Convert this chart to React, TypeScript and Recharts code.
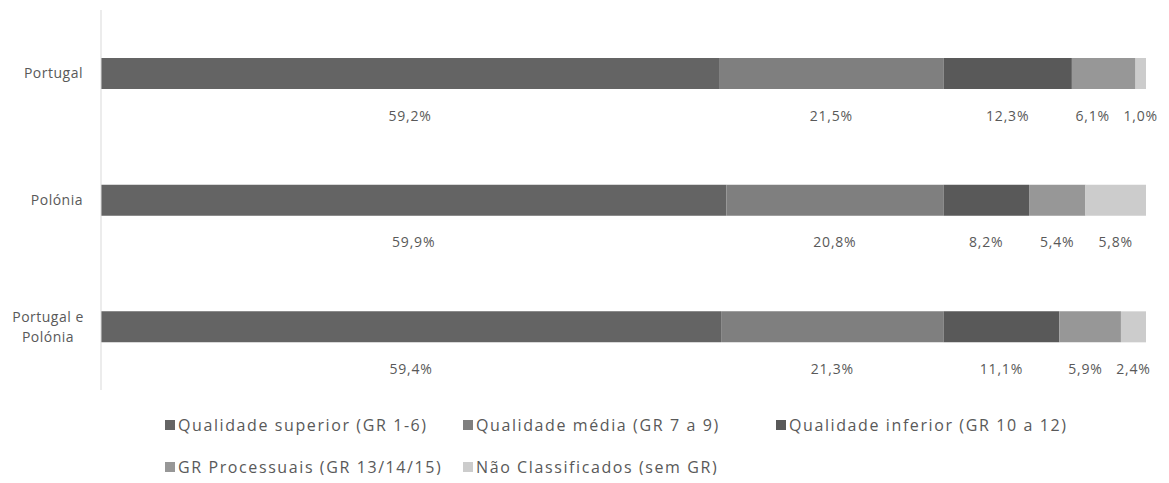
import React from 'react';
import { BarChart, Bar, XAxis, YAxis, Legend, LabelList } from 'recharts';

const categories = ['Portugal', 'Polónia', 'Portugal e Polónia'];
const superior = [59.2, 59.9, 59.4];
const media = [21.5, 20.8, 21.3];
const inferior = [12.3, 8.2, 11.1];
const processuais = [6.1, 5.4, 5.9];
const naoClassificados = [1.0, 5.8, 2.4];

const seriesNames = [
  'Qualidade superior (GR 1-6)',
  'Qualidade média (GR 7 a 9)',
  'Qualidade inferior (GR 10 a 12)',
  'GR Processuais (GR 13/14/15)',
  'Não Classificados (sem GR)',
];
const seriesKeys = ['superior', 'media', 'inferior', 'processuais', 'nao'];
const seriesColors = ['#646464', '#7f7f7f', '#595959', '#979797', '#cccccc'];

const data: any[] = categories.map((c, i) => ({
  name: c,
  superior: superior[i],
  media: media[i],
  inferior: inferior[i],
  processuais: processuais[i],
  nao: naoClassificados[i],
}));

const FONT = '"Open Sans", "Noto Sans", sans-serif';
const fmt = (v: number) => v.toFixed(1).replace('.', ',') + '%';
const textW = (s: string) => s.length * 8.5;

const YTick = (props: any) => {
  const { x, y, payload } = props;
  const label: string = payload.value;
  if (label === 'Portugal e Polónia') {
    return (
      <text x={x - 45} y={y} textAnchor="middle" fill="#595959" fontSize={14} letterSpacing={0.5} fontFamily={FONT}>
        <tspan x={x - 45} dy={-5}>Portugal e</tspan>
        <tspan x={x - 45} dy={20}>Polónia</tspan>
      </text>
    );
  }
  return (
    <text x={x - 10} y={y} dy={5} textAnchor="end" fill="#595959" fontSize={14} letterSpacing={0.5} fontFamily={FONT}>
      {label}
    </text>
  );
};

const BelowLabel = (props: any) => {
  const { x, y, width, height, value, index, seriesIndex } = props;
  const label = fmt(value);
  let cx = x + width / 2;
  if (seriesIndex < seriesKeys.length - 1 && value > 0) {
    const nextVal = data[index][seriesKeys[seriesIndex + 1]];
    const nextW = (width / value) * nextVal;
    const nextCx = x + width + nextW / 2;
    const nextLeft = nextCx - textW(fmt(nextVal)) / 2;
    const gap = 14;
    if (cx + textW(label) / 2 + gap > nextLeft) {
      cx = nextLeft - gap - textW(label) / 2;
    }
  }
  return (
    <text
      x={cx}
      y={y + height + 26}
      textAnchor="middle"
      dominantBaseline="central"
      fill="#595959"
      fontSize={14}
      letterSpacing={0.8}
      fontFamily={FONT}
    >
      {label}
    </text>
  );
};

const LegendContent = () => {
  const colWidths = [298, 313, 330];
  return (
    <div style={{ position: 'relative', width: '100%', height: '100%' }}>
      {seriesNames.map((n, i) => {
        const row = Math.floor(i / 3);
        const col = i % 3;
        const left = 157 + colWidths.slice(0, col).reduce((a, b) => a + b, 0);
        return (
          <div
            key={n}
            style={{
              position: 'absolute',
              left,
              top: row * 42,
              display: 'flex',
              alignItems: 'center',
              whiteSpace: 'nowrap',
              fontFamily: FONT,
              fontSize: 16,
              letterSpacing: 1.6,
              color: '#595959',
              height: 20,
            }}
          >
            <span style={{ display: 'inline-block', width: 10, height: 10, background: seriesColors[i], marginRight: 3 }} />
            {n}
          </div>
        );
      })}
    </div>
  );
};

export default function App() {
  return (
    <BarChart
      width={1153}
      height={467}
      data={data}
      layout="vertical"
      margin={{ top: 2, right: 15, bottom: 15, left: 0 }}
      barCategoryGap={0}
    >
      <XAxis type="number" domain={[0, 100.1]} hide />
      <YAxis
        type="category"
        dataKey="name"
        width={93}
        axisLine={{ stroke: '#d9d9d9' }}
        tickLine={false}
        tick={<YTick />}
        interval={0}
      />
      <Legend
        verticalAlign="bottom"
        height={70}
        content={<LegendContent />}
        wrapperStyle={{ top: 407, left: 0, bottom: 'auto', width: 1153 }}
      />
      {seriesKeys.map((k, i) => (
        <Bar
          key={k}
          dataKey={k}
          name={seriesNames[i]}
          stackId="a"
          fill={seriesColors[i]}
          barSize={31}
          isAnimationActive={false}
        >
          <LabelList dataKey={k} content={<BelowLabel seriesIndex={i} />} />
        </Bar>
      ))}
    </BarChart>
  );
}
